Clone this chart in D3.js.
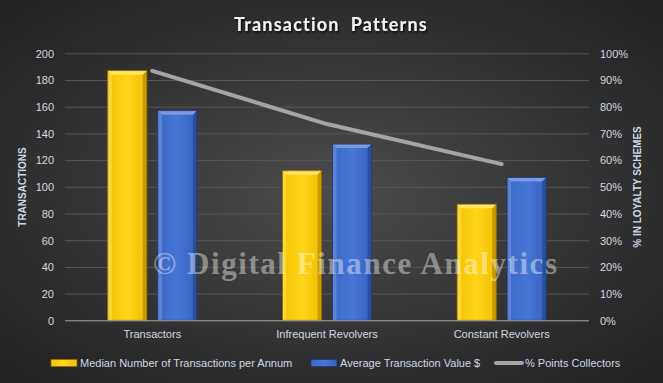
<!DOCTYPE html>
<html><head><meta charset="utf-8">
<script src="https://cdn.jsdelivr.net/npm/d3@7"></script>
<style>body{margin:0;background:#333}svg{display:block}</style>
</head><body>
<svg id="c" width="663" height="383"></svg>
<script>
const categories = ["Transactors", "Infrequent Revolvers", "Constant Revolvers"];
const medianTransactions = [187, 112, 87];
const avgTransactionValue = [157, 132, 107];
const pointsCollectors = [0.934, 0.735, 0.585];
const leftTicks = [0, 20, 40, 60, 80, 100, 120, 140, 160, 180, 200];
const rightTicks = [0, 0.1, 0.2, 0.3, 0.4, 0.5, 0.6, 0.7, 0.8, 0.9, 1.0];
const seriesNames = ["Median Number of Transactions per Annum", "Average Transaction Value $", "% Points Collectors"];

const W = 663, H = 383;
const m = {l: 65, r: 74, t: 53.3, b: 62.7};
const svg = d3.select("#c");
const defs = svg.append("defs");
const rg = defs.append("radialGradient").attr("id","bg").attr("cx","50%").attr("cy","50%").attr("r","65%");
rg.append("stop").attr("offset","0%").attr("stop-color","#4b4b4b");
rg.append("stop").attr("offset","100%").attr("stop-color","#232323");
svg.append("rect").attr("width",W).attr("height",H).attr("fill","url(#bg)");

function hgrad(id, c0, c1, c2){
  const g = defs.append("linearGradient").attr("id",id).attr("x1","0").attr("x2","1").attr("y1","0").attr("y2","0");
  g.append("stop").attr("offset","0%").attr("stop-color",c0);
  g.append("stop").attr("offset","50%").attr("stop-color",c1);
  g.append("stop").attr("offset","100%").attr("stop-color",c2);
}
hgrad("gy","#f2c200","#ffd51a","#f0be00");
hgrad("gb","#3a68c4","#4676d6","#3662bd");
const sh = defs.append("filter").attr("id","ts").attr("x","-10%").attr("y","-20%").attr("width","120%").attr("height","150%");
sh.append("feDropShadow").attr("dx",1).attr("dy",1.5).attr("stdDeviation",1).attr("flood-color","#000").attr("flood-opacity",0.9);

const x0 = d3.scaleBand().domain(categories).range([m.l, W - m.r]).paddingInner(0).paddingOuter(0);
const yL = d3.scaleLinear().domain([0, 200]).range([H - m.b, m.t]);
const yR = d3.scaleLinear().domain([0, 1]).range([H - m.b, m.t]);
const barW = x0.bandwidth() * 0.224;
const gap = barW * 0.28;

// gridlines
svg.append("g").selectAll("line").data(leftTicks.filter(d => d > 0)).join("line")
  .attr("x1", m.l).attr("x2", W - m.r).attr("y1", d => yL(d) + 0.5).attr("y2", d => yL(d) + 0.5)
  .attr("stroke", "#575757").attr("stroke-width", 1);

// axes
const axL = svg.append("g").attr("transform", `translate(${m.l - 11},0)`)
  .call(d3.axisLeft(yL).tickValues(leftTicks).tickSize(0).tickPadding(0));
const axR = svg.append("g").attr("transform", `translate(${W - m.r + 11},0)`)
  .call(d3.axisRight(yR).tickValues(rightTicks).tickSize(0).tickPadding(0).tickFormat(d3.format(".0%")));
[axL, axR].forEach(a => {
  a.select(".domain").remove();
  a.selectAll("text").attr("fill", "#d0d8e4").attr("font-family", "Liberation Sans, Arial, sans-serif").attr("font-size", 11).attr("dy", "0.35em");
});

// bars
function bevelBar(g, x, y, w, h, fillId, light, dark, dark2){
  const b = Math.min(4, h/2);
  g.append("rect").attr("x", x).attr("y", y).attr("width", w).attr("height", h).attr("fill", `url(#${fillId})`);
  g.append("polygon").attr("points", [[x,y],[x+w,y],[x+w-b,y+b],[x+b,y+b]].join(" ")).attr("fill", light);
  g.append("polygon").attr("points", [[x,y],[x+b,y+b],[x+b,y+h],[x,y+h]].join(" ")).attr("fill", light).attr("opacity", 0.55);
  g.append("polygon").attr("points", [[x+w,y],[x+w,y+h],[x+w-b,y+h],[x+w-b,y+b]].join(" ")).attr("fill", dark);
  g.append("rect").attr("x", x).attr("y", y).attr("width", w).attr("height", h).attr("fill", "none").attr("stroke", dark2).attr("stroke-width", 0.8);
}
const gBars = svg.append("g");
categories.forEach((c, i) => {
  const cx = x0(c) + x0.bandwidth() / 2;
  const xa = cx - gap/2 - barW, xb = cx + gap/2;
  bevelBar(gBars, xa, yL(medianTransactions[i]), barW, yL(0) - yL(medianTransactions[i]), "gy", "#ffe36a", "#c99a00", "#8a6a00");
  bevelBar(gBars, xb, yL(avgTransactionValue[i]), barW, yL(0) - yL(avgTransactionValue[i]), "gb", "#7a9be0", "#2a4f9a", "#1d3770");
});

// baseline
svg.append("line").attr("x1", m.l).attr("x2", W - m.r).attr("y1", yL(0) + 0.5).attr("y2", yL(0) + 0.5).attr("stroke", "#a8a8a8").attr("stroke-width", 1);

// line series
const line = d3.line().x((d, i) => x0(categories[i]) + x0.bandwidth() / 2).y(d => yR(d));
svg.append("path").datum(pointsCollectors).attr("d", line).attr("fill", "none")
  .attr("stroke", "#a5a5a5").attr("stroke-width", 4).attr("stroke-linecap", "round").attr("stroke-linejoin", "round");

// category labels
svg.append("g").selectAll("text").data(categories).join("text")
  .attr("x", d => x0(d) + x0.bandwidth() / 2).attr("y", 338)
  .attr("text-anchor", "middle").attr("fill", "#d0d8e4")
  .attr("font-family", "Liberation Sans, Arial, sans-serif").attr("font-size", 11).text(d => d);

// watermark
svg.append("text").attr("x", 355).attr("y", 274).attr("text-anchor", "middle")
  .attr("font-family", "Liberation Serif, DejaVu Serif, serif").attr("font-weight", "bold").attr("font-size", 31)
  .attr("textLength", 404).attr("lengthAdjust", "spacing")
  .attr("fill", "#ffffff").attr("fill-opacity", 0.42).text("© Digital Finance Analytics");

// title
svg.append("text").attr("x", 331).attr("y", 31).attr("text-anchor", "middle")
  .attr("font-family", "Lato, Liberation Sans, sans-serif").attr("font-weight", "bold").attr("font-size", 18)
  .attr("letter-spacing", 1.2).attr("fill", "#f2f2f2").attr("filter", "url(#ts)")
  .attr("xml:space", "preserve").text("Transaction  Patterns");

// axis titles
svg.append("text").attr("transform", `translate(26,187) rotate(-90)`).attr("text-anchor", "middle")
  .attr("font-family", "Liberation Sans, Arial, sans-serif").attr("font-weight", "bold").attr("font-size", 10)
  .attr("fill", "#d0d8e4").text("TRANSACTIONS");
svg.append("text").attr("transform", `translate(641,187) rotate(-90)`).attr("text-anchor", "middle")
  .attr("font-family", "Liberation Sans, Arial, sans-serif").attr("font-weight", "bold").attr("font-size", 10)
  .attr("fill", "#d0d8e4").text("% IN LOYALTY SCHEMES");

// legend
const lg = svg.append("g");
const ly = 363;
const items = [
  {x: 51, type: "bar", fill: "url(#gy)", stroke: "#8a6a00", tx: 80, name: seriesNames[0]},
  {x: 311, type: "bar", fill: "url(#gb)", stroke: "#1d3770", tx: 340, name: seriesNames[1]},
  {x: 494, type: "line", tx: 525, name: seriesNames[2]}
];
items.forEach(it => {
  if (it.type === "bar") {
    lg.append("rect").attr("x", it.x).attr("y", ly - 3.5).attr("width", 26).attr("height", 7).attr("fill", it.fill).attr("stroke", it.stroke).attr("stroke-width", 0.7);
  } else {
    lg.append("line").attr("x1", it.x + 2).attr("x2", it.x + 28).attr("y1", ly).attr("y2", ly).attr("stroke", "#a5a5a5").attr("stroke-width", 4).attr("stroke-linecap", "round");
  }
  lg.append("text").attr("x", it.tx).attr("y", ly).attr("dy", "0.35em").attr("fill", "#d0d8e4")
    .attr("font-family", "Liberation Sans, Arial, sans-serif").attr("font-size", 11).text(it.name);
});
</script>
</body></html>
